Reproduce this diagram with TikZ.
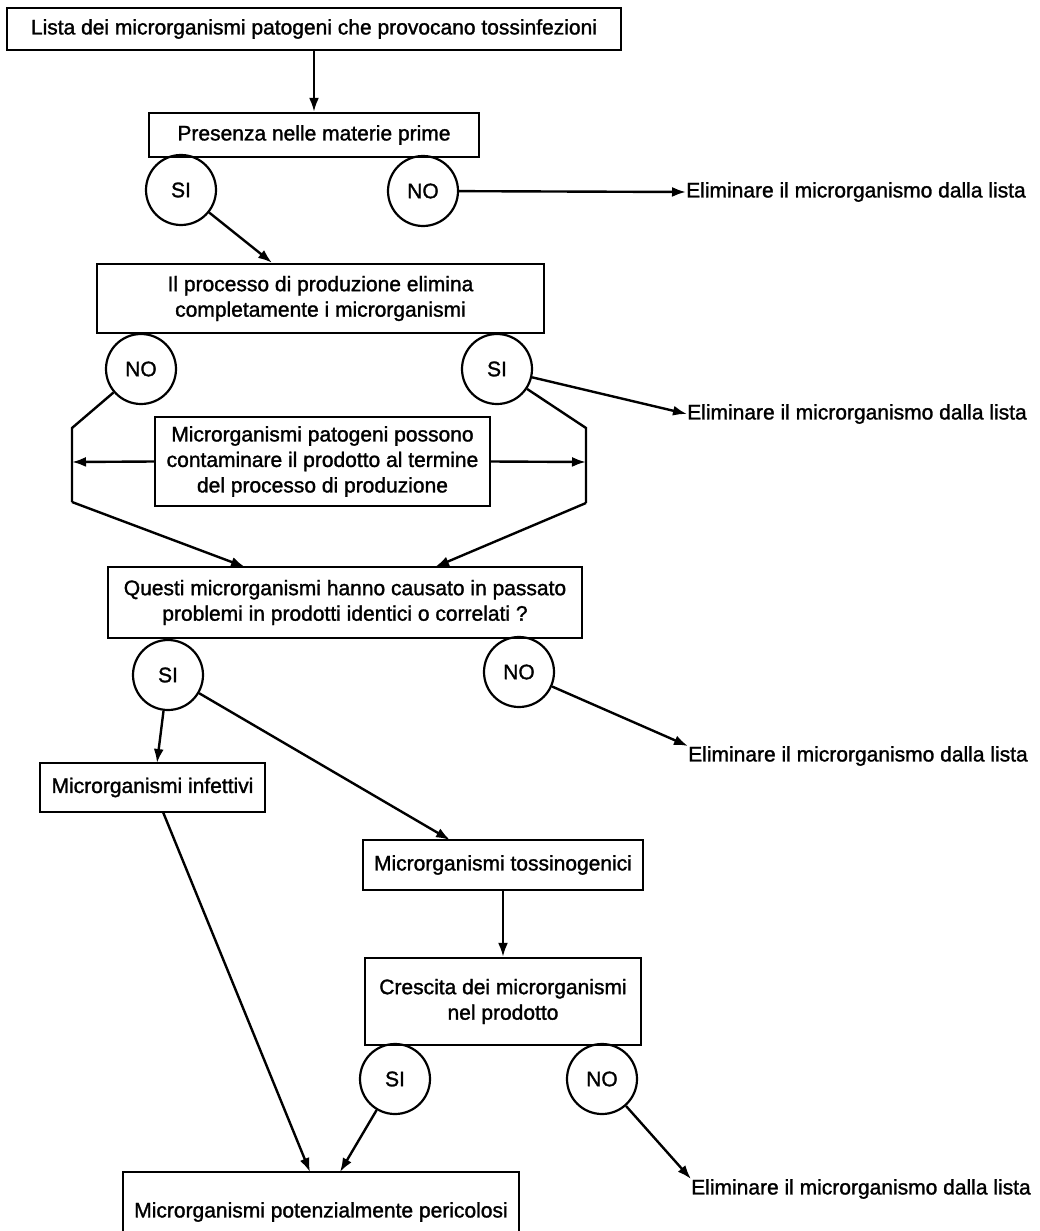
\documentclass[tikz,border=0pt]{standalone}
\usepackage{fontspec}
\setmainfont{Liberation Sans}[FakeBold=1.4]
\usetikzlibrary{arrows.meta}
\begin{document}
\begin{tikzpicture}[x=1pt,y=-1pt,
  every node/.style={font=\fontsize{21}{25.5}\selectfont, inner sep=0pt},
  box/.style={draw, line width=2.4pt, align=center},
  yn/.style={draw, circle, line width=2.2pt, minimum size=70pt},
  lbl/.style={anchor=west},
  conn/.style={line width=2.4pt},
  arr/.style={conn, -{Latex[length=14pt,width=10pt]}}]
\useasboundingbox[fill=white] (0,0) rectangle (1039,1231);

\node[box, minimum width=614pt, minimum height=42pt] (lista) at (314,29) {Lista dei microrganismi patogeni che provocano tossinfezioni};
\node[box, minimum width=330pt, minimum height=44pt] (pres) at (314,135) {Presenza nelle materie prime};
\node[yn] (si1) at (181,190) {SI};
\node[yn] (no1) at (423,191) {NO};
\node[lbl] (el1) at (686,192) {Eliminare il microrganismo dalla lista};

\node[box, minimum width=447pt, minimum height=69pt] (proc) at (320.5,298.5) {Il processo di produzione elimina\\completamente i microrganismi};
\node[yn] (no2) at (141,369) {NO};
\node[yn] (si2) at (497,369) {SI};
\node[lbl] (el2) at (687,414) {Eliminare il microrganismo dalla lista};

\node[box, minimum width=335pt, minimum height=89pt] (cont) at (322.5,461.5) {Microrganismi patogeni possono\\contaminare il prodotto al termine\\del processo di produzione};
\coordinate (lt) at (72,428);
\coordinate (lm) at (72,462);
\coordinate (lb) at (72,502);
\coordinate (rt) at (586,428);
\coordinate (rm) at (586,462);
\coordinate (rb) at (586,503);

\node[box, minimum width=474pt, minimum height=71pt] (quest) at (345,602.5) {Questi microrganismi hanno causato in passato\\problemi in prodotti identici o correlati ?};
\coordinate (ql) at (245,567);
\coordinate (qr) at (435,567);
\node[yn] (si3) at (168,675) {SI};
\node[yn] (no3) at (519,672) {NO};
\node[lbl] (el3) at (688,756) {Eliminare il microrganismo dalla lista};

\node[box, minimum width=225pt, minimum height=49pt] (inf) at (152.5,787.5) {Microrganismi infettivi};
\coordinate (it) at (157,763);
\coordinate (ib) at (163,812);
\node[box, minimum width=280pt, minimum height=50pt] (tox) at (503,865) {Microrganismi tossinogenici};
\coordinate (tt) at (450,840);
\node[box, minimum width=276pt, minimum height=87pt] (cresc) at (503,1001.5) {Crescita dei microrganismi\\nel prodotto};
\node[yn] (si4) at (395,1079) {SI};
\node[yn] (no4) at (602,1079) {NO};
\node[lbl] (el4) at (691,1189) {Eliminare il microrganismo dalla lista};

\node[box, minimum width=396pt, minimum height=80pt] (peric) at (321,1212) {Microrganismi potenzialmente pericolosi};
\coordinate (pa) at (310,1172);
\coordinate (pb) at (340,1172);

\draw[arr] (lista.south) -- (pres.north);
\draw[arr] (si1) -- (proc.north -| 272,0);
\draw[arr] (no1) -- (el1.west);
\draw[arr] (si2) -- (el2.west);
\draw[conn] (no2) -- (lt) -- (lb);
\draw[arr] (lb) -- (ql);
\draw[conn] (si2) -- (rt) -- (rb);
\draw[arr] (rb) -- (qr);
\draw[arr] (cont.west) -- (lm);
\draw[arr] (cont.east) -- (rm);
\draw[arr] (no3) -- (el3.north west);
\draw[arr] (si3) -- (it);
\draw[arr] (si3) -- (tt);
\draw[arr] (tox.south) -- (cresc.north);
\draw[arr] (no4) -- (el4.north west);
\draw[arr] (si4) -- (pb);
\draw[arr] (ib) -- (pa);
\end{tikzpicture}
\end{document}
